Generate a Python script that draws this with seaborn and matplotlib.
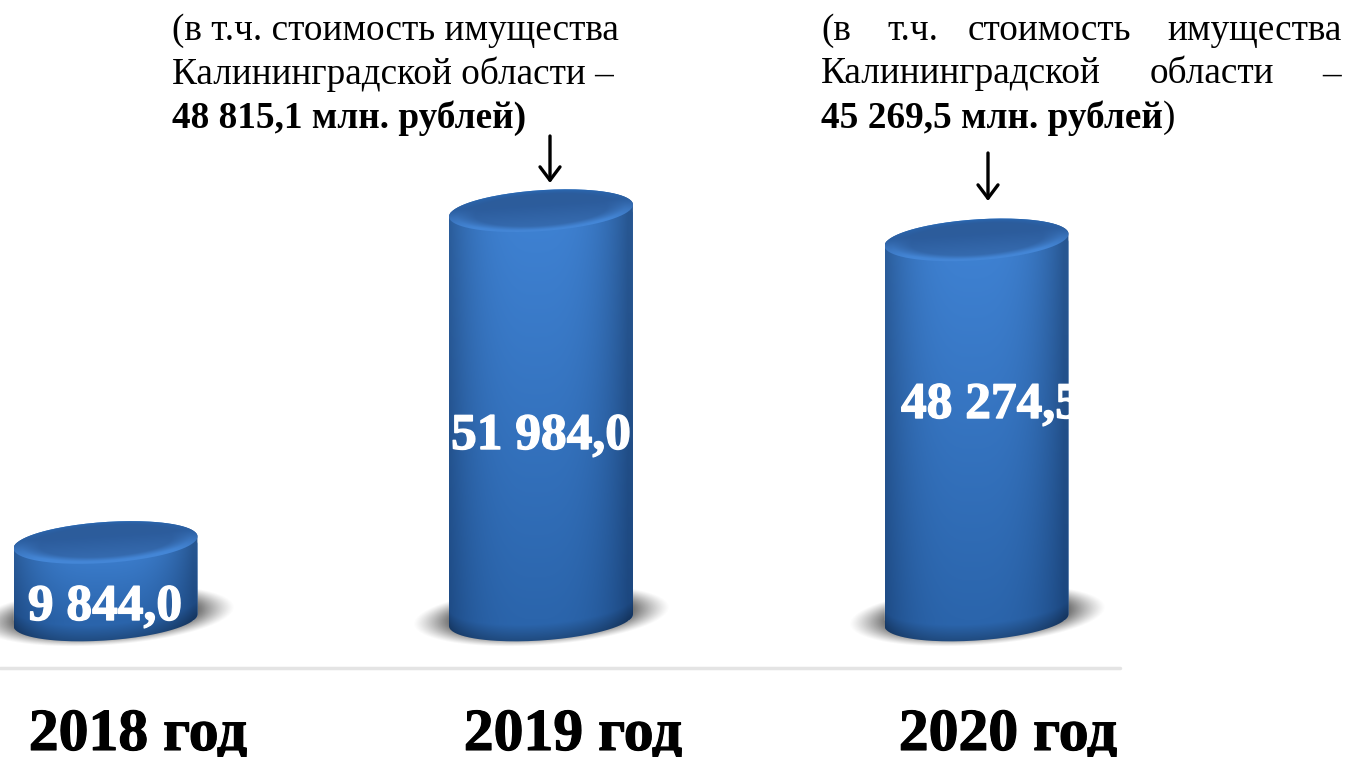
import numpy as np
import matplotlib
matplotlib.use("Agg")
import matplotlib.pyplot as plt
import matplotlib.patheffects as pe
from matplotlib.path import Path
import seaborn as sns

# data
years = ["2018 год", "2019 год", "2020 год"]
values = [9844.0, 51984.0, 48274.5]
value_labels = ["9 844,0", "51 984,0", "48 274,5"]

W, H = 1347, 757
STEP = 435.5        # px between categories
X0 = 105.5          # px of first category
BASE = 620          # px of zero line
VAL_PER_PX = 127.0
BAR_W = 184 / STEP
SLOPE = 0.065
B = 20.5


def P(x, y):
    # px of the reference -> data coordinates
    return (x - X0) / STEP, (BASE - y) * VAL_PER_PX


def arc(cx, cy, t):
    x = cx + 92 * np.cos(t)
    y = cy - SLOPE * (x - cx) - B * np.sin(t)
    return x, y


def to_path(xs, ys):
    dx, dy = P(np.asarray(xs), np.asarray(ys))
    return Path(np.column_stack([dx, dy]))


def draw_image(ax, rgba, x0, x1, y0, y1, clip=None, z=3):
    # y0 is the upper px edge, y1 the lower one
    left, top = P(x0, y0)
    right, bottom = P(x1, y1)
    im = ax.imshow(rgba, extent=(left, right, bottom, top), origin="upper",
                   aspect="auto", interpolation="bilinear", zorder=z)
    if clip is not None:
        im.set_clip_path(clip, ax.transData)
    return im


def mix(c1, c2, t):
    t = np.clip(t, 0, 1)[..., None]
    return np.array(c1) * (1 - t) + np.array(c2) * t


def rgb(h):
    return np.array(matplotlib.colors.to_rgb(h))


sns.set_theme(style="white")
plt.rcParams["font.family"] = ["Liberation Serif", "DejaVu Serif"]

fig = plt.figure(figsize=(W / 100, H / 100), dpi=100, facecolor="white")
ax = fig.add_axes([0, 0, 1, 1])
sns.barplot(x=years, y=values, order=years, color="#2f68b0", width=BAR_W,
            saturation=1, ax=ax, zorder=2)
ax.set_axis_off()

for bar in ax.patches[:len(years)]:
    cx = (bar.get_x() + bar.get_width() / 2) * STEP + X0
    top_y = BASE - bar.get_height() / VAL_PER_PX
    left, right = cx - 92, cx + 92

    # shadow
    xx, yy = np.meshgrid(np.arange(cx - 140, cx + 140), np.arange(BASE - 45, BASE + 40))
    dx = xx - cx
    dy = yy - (BASE - 5 - SLOPE * dx)
    r = np.sqrt((dx / 128) ** 2 + (dy / 30) ** 2)
    shadow = np.zeros(xx.shape + (4,))
    shadow[..., :3] = rgb("#666666")
    shadow[..., 3] = 0.9 * np.clip((1 - r) / 0.28, 0, 1) ** 1.2
    draw_image(ax, shadow, cx - 140, cx + 140, BASE - 45, BASE + 40, z=1)

    # cylinder body
    t_low = np.linspace(np.pi, 2 * np.pi, 80)
    t_up = np.linspace(0, np.pi, 80)
    xb, yb = arc(cx, BASE, t_low)
    xt, yt = arc(cx, top_y, t_up)
    body = to_path(np.r_[xb, xt, xb[0]], np.r_[yb, yt, yb[0]])
    bar.set_clip_path(body, ax.transData)

    xx, yy = np.meshgrid(np.linspace(left, right, 184),
                         np.linspace(top_y - 30, BASE + 30, 300))
    u = (xx - cx) / 92
    v = np.clip((yy - top_y) / (BASE - top_y), 0, 1)
    centre = mix(rgb("#3f82d3"), rgb("#2b65ac"), v)
    edge = mix(rgb("#285792"), rgb("#1c477f"), v)
    blend = np.clip(np.abs(u + 0.05) ** 3.0, 0, 1)
    img = centre * (1 - blend[..., None]) + edge * blend[..., None]
    # darker lower rim
    low = BASE + B * np.sqrt(np.clip(1 - u ** 2, 0, 1)) - SLOPE * (xx - cx)
    dark = np.clip((yy - (low - 16)) / 16, 0, 1)
    img = img * (1 - 0.25 * dark[..., None])
    rgba = np.dstack([img, np.ones(xx.shape)])
    draw_image(ax, rgba, left, right, top_y - 30, BASE + 30, clip=body)

    # top face
    t_all = np.linspace(0, 2 * np.pi, 160)
    xe, ye = arc(cx, top_y, t_all)
    top_path = to_path(xe, ye)
    xx, yy = np.meshgrid(np.linspace(left, right, 184),
                         np.linspace(top_y - 32, top_y + 32, 128))
    u = (xx - cx) / 92
    w = (yy - top_y + SLOPE * (xx - cx)) / B
    rr = np.sqrt(u ** 2 + w ** 2)
    face = mix(rgb("#2c5c9c"), rgb("#356aae"), np.clip(w + 0.3, 0, 1))
    rim = np.clip((rr - 0.72) / 0.2, 0, 1) * np.clip(w + 0.35, 0, 1)
    face = face * (1 - rim[..., None]) + rgb("#4486d6") * rim[..., None]
    upper = np.clip((rr - 0.82) / 0.18, 0, 1) * np.clip(-w, 0, 1)
    face = face * (1 - upper[..., None]) + rgb("#2a67b0") * upper[..., None]
    rgba = np.dstack([face, np.ones(xx.shape)])
    draw_image(ax, rgba, left, right, top_y - 32, top_y + 32, clip=top_path, z=4)

# value labels, the last one runs off the cylinder edge as in the source
label_pos = [(105, 608), (541, 437), (901, 406)]
for i, (lab, (lx, ly)) in enumerate(zip(value_labels, label_pos)):
    ha = "left" if i == 2 else "center"
    ax.text(*P(lx, ly), lab, color="white", fontsize=37, fontweight="bold",
            ha=ha, va="center", zorder=6,
            path_effects=[pe.withStroke(linewidth=1, foreground="white")])

# separator
ax.plot(*zip(P(0, 668), P(1120, 668)), color="#e4e4e4", lw=2.5, zorder=1)

# year labels
for i, year in enumerate(years):
    ax.text(*P([138, 573, 1008][i], 736), year, color="black", fontsize=43,
            fontweight="bold", ha="center", va="center", zorder=6,
            path_effects=[pe.withStroke(linewidth=0.8, foreground="black")])

# notes above the bars
NOTE = 26.8
notes = [
    (172, 31, "(в т.ч. стоимость имущества", "normal"),
    (172, 74, "Калининградской области –", "normal"),
    (172, 118, "48 815,1 млн. рублей)", "bold"),
    (821, 31, "(в", "normal"), (887, 31, "т.ч.", "normal"),
    (968, 31, "стоимость", "normal"), (1167, 31, "имущества", "normal"),
    (821, 74, "Калининградской", "normal"), (1150, 74, "области", "normal"),
    (1322, 74, "–", "normal"),
    (821, 118, "45 269,5 млн. рублей", "bold"), (1163, 118, ")", "normal"),
]
for nx, ny, txt, weight in notes:
    ax.text(*P(nx, ny), txt, fontsize=NOTE, fontweight=weight, color="black",
            ha="left", va="center", zorder=6)

# arrows
for ax_x, y0, y1 in [(550, 136, 183), (988, 153, 201)]:
    ax.annotate("", xy=P(ax_x, y1), xytext=P(ax_x, y0), zorder=6,
                arrowprops=dict(arrowstyle="->,head_length=0.8,head_width=0.6",
                                color="black", lw=2.4, shrinkA=0, shrinkB=0))

ax.set_xlim(P(0, 0)[0], P(W, 0)[0])
ax.set_ylim(P(0, H)[1], P(0, 0)[1])
fig.savefig("out.png", dpi=100, facecolor="white")
